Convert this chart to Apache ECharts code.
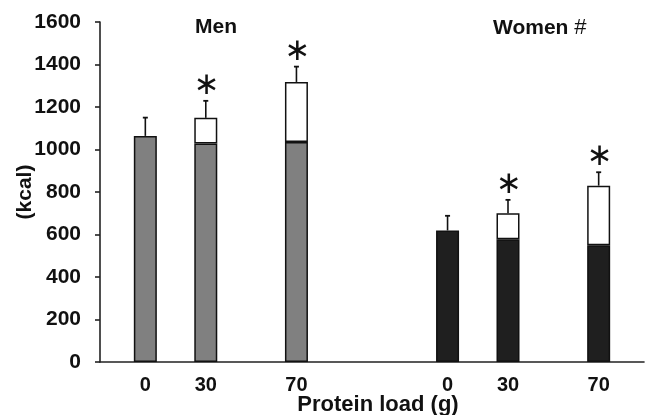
<!DOCTYPE html>
<html>
<head>
<meta charset="utf-8">
<script src="https://cdn.jsdelivr.net/npm/echarts@6/dist/echarts.min.js"></script>
<style>
html,body{margin:0;padding:0;background:#fff;}
#chart{width:649px;height:415px;}
</style>
</head>
<body>
<div id="chart"></div>
<script>
// ---- data ----
const slotCount = 18;                      // half-slot layout of the x axis
const barSlots = [1, 3, 6, 11, 13, 16];    // slot index of each bar
const doseLabels = ['0', '30', '70', '0', '30', '70'];
const groupOfBar = ['Men', 'Men', 'Men', 'Women', 'Women', 'Women'];
const baseKcal = [1064, 1028, 1035, 619, 578, 550];
const totalKcal = [1064, 1149, 1318, 619, 700, 830];
const errorTopKcal = [1150, 1229, 1390, 688, 763, 893];
const significant = [false, true, true, false, true, true];
const groupTitles = ['Men', 'Women #'];
const yMin = 0, yMax = 1600, yStep = 200;

const groupColor = { Men: '#808080', Women: '#1f1f1f' };
const FONT = '"Liberation Sans", Arial, Helvetica, sans-serif';

const categories = [];
for (let i = 0; i < slotCount; i++) categories.push('s' + i);
const labelAt = {};
barSlots.forEach((s, i) => { labelAt['s' + s] = doseLabels[i]; });

const baseData = new Array(slotCount).fill(null);
const topData = new Array(slotCount).fill(null);
barSlots.forEach((s, i) => {
  baseData[s] = { value: baseKcal[i], itemStyle: { color: groupColor[groupOfBar[i]] } };
  const inc = totalKcal[i] - baseKcal[i];
  topData[s] = inc > 0 ? inc : null;
});
const errData = barSlots.map((s, i) => [s, totalKcal[i], errorTopKcal[i], significant[i] ? 1 : 0]);

const chart = echarts.init(document.getElementById('chart'), null, { renderer: 'canvas' });
chart.setOption({
  backgroundColor: '#fff',
  animation: false,
  grid: { left: 100, right: 5, top: 22, bottom: 53, containLabel: false, outerBoundsMode: 'none' },
  graphic: [
    { type: 'text', left: 195, top: 17, style: { text: groupTitles[0], font: 'bold 21px ' + FONT, fill: '#111' } },
    { type: 'text', left: 493, top: 17, style: {
        text: '{b|Women} {n|#}',
        rich: {
          b: { fontFamily: FONT, fontWeight: 'bold', fontSize: 21, fill: '#111', color: '#111' },
          n: { fontFamily: FONT, fontWeight: 'normal', fontSize: 22, color: '#111' }
        },
        font: 'bold 21px ' + FONT, fill: '#111' } }
  ],
  xAxis: {
    type: 'category',
    data: categories,
    boundaryGap: true,
    axisLine: { lineStyle: { color: '#222', width: 1.6 } },
    axisTick: { show: false },
    axisLabel: {
      interval: 0, margin: 13,
      formatter: v => labelAt[v] || '',
      color: '#111', fontFamily: FONT, fontWeight: 'bold', fontSize: 20
    },
    name: 'Protein load (g)',
    nameLocation: 'middle',
    nameGap: 32,
    nameMoveOverlap: false,
    nameTextStyle: { color: '#111', fontFamily: FONT, fontWeight: 'bold', fontSize: 22, padding: [0, 0, 0, 12] }
  },
  yAxis: {
    type: 'value',
    min: yMin, max: yMax, interval: yStep,
    splitLine: { show: false },
    axisLine: { show: true, lineStyle: { color: '#222', width: 1.6 } },
    axisTick: { show: true, length: 5, lineStyle: { color: '#222', width: 1.6 } },
    axisLabel: { margin: 19, formatter: v => String(v), color: '#111', fontFamily: FONT, fontWeight: 'bold', fontSize: 21 },
    name: '(kcal)',
    nameLocation: 'middle',
    nameGap: 64,
    nameMoveOverlap: false,
    nameTextStyle: { color: '#111', fontFamily: FONT, fontWeight: 'bold', fontSize: 21 }
  },
  series: [
    {
      type: 'bar', stack: 'kcal', barWidth: 23, data: baseData,
      itemStyle: { borderColor: '#111', borderWidth: 1.5 }
    },
    {
      type: 'bar', stack: 'kcal', barWidth: 23, data: topData,
      itemStyle: { color: '#fff', borderColor: '#111', borderWidth: 1.5 }
    },
    {
      type: 'custom', data: errData, z: 5,
      renderItem: function (params, api) {
        const x = api.value(0);
        const p0 = api.coord([x, api.value(1)]);
        const p1 = api.coord([x, api.value(2)]);
        const children = [
          { type: 'line', shape: { x1: p0[0], y1: p0[1], x2: p1[0], y2: p1[1] }, style: { stroke: '#111', lineWidth: 1.6 } },
          { type: 'line', shape: { x1: p1[0] - 2.5, y1: p1[1], x2: p1[0] + 2.5, y2: p1[1] }, style: { stroke: '#111', lineWidth: 1.8 } }
        ];
        if (api.value(3)) {
          children.push({
            type: 'text',
            style: { text: '\u2217', x: p1[0] + 1, y: p1[1] - 15, textAlign: 'center', textVerticalAlign: 'middle',
                     font: '31px "DejaVu Sans", sans-serif', fill: '#111' }
          });
        }
        return { type: 'group', children: children };
      }
    }
  ]
});
</script>
</body>
</html>
